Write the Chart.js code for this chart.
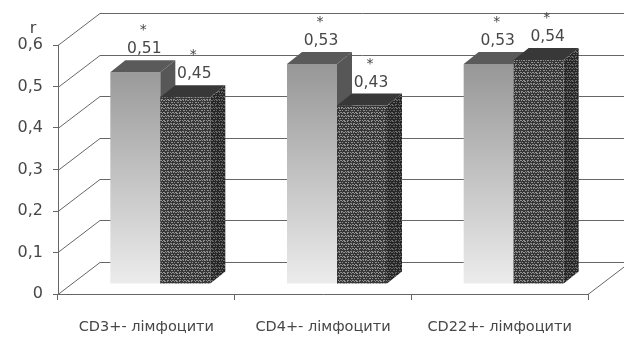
<!DOCTYPE html>
<html lang="uk">
<head>
<meta charset="UTF-8">
<title>r</title>
<script src="https://cdn.jsdelivr.net/npm/chart.js@4/dist/chart.umd.min.js"></script>
<style>
  html, body { margin: 0; padding: 0; background: #fff; }
</style>
</head>
<body>
<canvas id="myChart" width="624" height="338"></canvas>
<script>
// дані з рисунка
const categories = ['CD3+- лімфоцити', 'CD4+- лімфоцити', 'CD22+- лімфоцити'];
const seriesA = [0.51, 0.53, 0.53];
const seriesB = [0.45, 0.43, 0.54];
const marksA = ['*', '*', '*'];
const marksB = ['*', '*', '*'];
const yTicks = [0, 0.1, 0.2, 0.3, 0.4, 0.5, 0.6];
const yTitle = 'r';

const FONT = "'DejaVu Sans', sans-serif";
const TEXT = '#474747';
const LINE = '#666';

// зсув стіни / глибина стовпчиків
const WALL = { dx: 42, dy: -32 };
const SHIFT = { dx: 14, dy: -10 };
const DEPTH = { dx: 15, dy: -12 };

const fmt = v => (Math.round(v * 100) / 100).toString().replace('.', ',');

// текстура для другого ряду
function makePattern(dark) {
  const map = [
    '#..#.##..#.#',
    '############',
    '.#..#..##..#',
    '#.##.#..#.##',
    '############',
    '..#..##.#..#',
    '#.#.#..#.#..',
    '############'
  ];
  const c = document.createElement('canvas');
  c.width = map[0].length; c.height = map.length;
  const g = c.getContext('2d');
  map.forEach((row, y) => {
    for (let x = 0; x < row.length; x++) {
      g.fillStyle = row[x] === '#' ? (dark ? '#262626' : '#363636') : (dark ? '#666' : '#8f8f8f');
      g.fillRect(x, y, 1, 1);
    }
  });
  return g.createPattern(c, 'repeat');
}

const ctx = document.getElementById('myChart').getContext('2d');
const patFront = makePattern(false);
const patSide = makePattern(true);

function grayGradient(context) {
  const area = context.chart.chartArea;
  if (!area) return '#bbb';
  const g = context.chart.ctx.createLinearGradient(0, area.top, 0, area.bottom);
  g.addColorStop(0, '#8c8c8c');
  g.addColorStop(1, '#ececec');
  return g;
}

const box3d = {
  id: 'box3d',
  beforeDraw(chart) {
    const { ctx, chartArea: a } = chart;
    const ys = chart.scales.y;
    ctx.save();
    ctx.strokeStyle = LINE;
    ctx.lineWidth = 1;
    ctx.beginPath();
    yTicks.forEach(v => {
      const y = Math.round(ys.getPixelForValue(v)) + 0.5;
      ctx.moveTo(a.left, y);
      ctx.lineTo(a.left + WALL.dx, y + WALL.dy);
      ctx.lineTo(chart.width + 10, y + WALL.dy);
    });
    // правий край підлоги
    const yb = Math.round(ys.getPixelForValue(0)) + 0.5;
    ctx.moveTo(a.right, yb);
    ctx.lineTo(a.right + WALL.dx, yb + WALL.dy);
    ctx.stroke();
    // підпис осі
    ctx.fillStyle = TEXT;
    ctx.font = '16px ' + FONT;
    ctx.textAlign = 'center';
    ctx.textBaseline = 'alphabetic';
    ctx.fillText(yTitle, 33, 33);
    ctx.restore();
  },
  beforeDatasetDraw() {
    return false;
  },
  afterDatasetsDraw(chart) {
    const { ctx } = chart;
    const metas = chart.data.datasets.map((d, i) => chart.getDatasetMeta(i));
    const tops = [];
    categories.forEach((c, i) => {
      metas.forEach((meta, di) => {
        const el = meta.data[i];
        const { x, y, base, width } = el.getProps(['x', 'y', 'base', 'width'], true);
        const l = x - width / 2, r = x + width / 2;
        ctx.save();
        ctx.translate(SHIFT.dx, SHIFT.dy);
        el.draw(ctx);
        // верх
        ctx.beginPath();
        ctx.moveTo(l, y);
        ctx.lineTo(l + DEPTH.dx, y + DEPTH.dy);
        ctx.lineTo(r + DEPTH.dx, y + DEPTH.dy);
        ctx.lineTo(r, y);
        ctx.closePath();
        ctx.fillStyle = di === 0 ? '#5a5a5a' : '#383838';
        ctx.fill();
        // бік
        ctx.beginPath();
        ctx.moveTo(r, y);
        ctx.lineTo(r + DEPTH.dx, y + DEPTH.dy);
        ctx.lineTo(r + DEPTH.dx, base + DEPTH.dy);
        ctx.lineTo(r, base);
        ctx.closePath();
        ctx.fillStyle = di === 0 ? '#575757' : patSide;
        ctx.fill();
        ctx.restore();
        tops.push({ x: x + SHIFT.dx, y: y + SHIFT.dy, v: chart.data.datasets[di].data[i],
                    m: (di === 0 ? marksA : marksB)[i] });
      });
    });
    // підписи значень
    ctx.save();
    ctx.fillStyle = TEXT;
    ctx.textAlign = 'center';
    tops.forEach(t => {
      ctx.font = '15.5px ' + FONT;
      ctx.textBaseline = 'alphabetic';
      ctx.fillText(fmt(t.v), t.x + 9, t.y - 19);
      ctx.font = '14px ' + FONT;
      ctx.fillText(t.m, t.x + 8, t.y - 38);
    });
    ctx.restore();
  }
};

const myChart = new Chart(ctx, {
  type: 'bar',
  data: {
    labels: categories,
    datasets: [
      { label: 'A', data: seriesA, backgroundColor: grayGradient, borderWidth: 0 },
      { label: 'B', data: seriesB, backgroundColor: patFront, borderWidth: 0 }
    ]
  },
  options: {
    responsive: false,
    animation: false,
    events: [],
    layout: { padding: { left: 0, top: 45, right: 36, bottom: 0 } },
    datasets: { bar: { categoryPercentage: 0.566, barPercentage: 1 } },
    plugins: { legend: { display: false }, tooltip: { enabled: false } },
    scales: {
      x: {
        offset: true,
        grid: { display: true, drawOnChartArea: false, offset: true, tickLength: 6, color: LINE },
        border: { display: true, color: LINE },
        ticks: { color: TEXT, font: { family: FONT, size: 14.5 }, padding: 19, maxRotation: 0 },
        afterFit: s => { s.height = 44; }
      },
      y: {
        min: 0,
        max: 0.6,
        afterBuildTicks: s => { s.ticks = yTicks.map(v => ({ value: v })); },
        grid: { display: true, drawOnChartArea: false, tickLength: 5, color: LINE },
        border: { display: true, color: LINE },
        ticks: { color: TEXT, font: { family: FONT, size: 16 }, padding: 10, callback: v => fmt(v) },
        afterFit: s => { s.width = 58; }
      }
    }
  },
  plugins: [box3d]
});
</script>
</body>
</html>
